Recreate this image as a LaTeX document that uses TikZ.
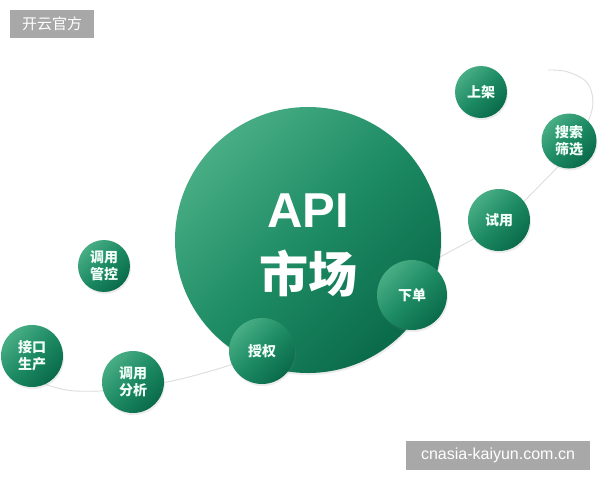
\documentclass[tikz,border=0pt]{standalone}
\usepackage{fontspec}
\setmainfont{Liberation Sans}
\newfontfamily\cjk{Noto Sans CJK SC}
\usetikzlibrary{shadows}
\definecolor{glight}{HTML}{48AD84}
\definecolor{gmid}{HTML}{1D8B64}
\definecolor{gdark}{HTML}{0A6A4A}
\definecolor{track}{HTML}{DDDDDD}
\definecolor{tagfill}{HTML}{A8A8A8}
\definecolor{labeltext}{HTML}{F2FFF8}
\tikzset{
  ball/.style={circle, inner sep=0pt, minimum size=#1, top color=glight, bottom color=gdark,
    middle color=gmid, shading angle=45, text=labeltext, align=center,
    font=\cjk\bfseries\fontsize{14}{16.5}\selectfont,
    drop shadow={opacity=0.15, shadow xshift=1pt, shadow yshift=-2pt}},
  tagbox/.style={fill=tagfill, text=white, inner sep=0pt},
  trackline/.style={draw=track, line width=0.9pt}
}
\begin{document}
\begin{tikzpicture}[x=1pt, y=-1pt]
\fill[white] (0,0) rectangle (600,480);
\useasboundingbox (0,0) rectangle (600,480);
% track coordinates
\coordinate (p0) at (42,383);
\coordinate (p1) at (75,391);
\coordinate (p2) at (133,388);
\coordinate (p3) at (200,374);
\coordinate (p4) at (262,352);
\coordinate (p5) at (360,300);
\coordinate (p6) at (440,257);
\coordinate (p7) at (499,223);
\coordinate (p8) at (545,180);
\coordinate (p9) at (574,147);
\coordinate (p10) at (592,110);
\coordinate (p11) at (588,84);
\coordinate (p12) at (568,72);
\coordinate (p13) at (548,70);
\draw[trackline] plot[smooth, tension=0.6] coordinates {(p0) (p1) (p2) (p3) (p4) (p5) (p6) (p7) (p8) (p9) (p10) (p11) (p12) (p13)};
% main circle
\node[ball=266pt] (big) at (308,240) {};
\node[text=white, font=\bfseries\fontsize{49}{49}\selectfont, anchor=base] (api) at (308,227) {API};
\node[text=white, font=\cjk\bfseries\fontsize{49}{49}\selectfont] (sc) at (308,274) {市场};
% small circles
\node[ball=52pt] (sj) at (481,92) {上架};
\node[ball=55pt] (ss) at (569,141) {搜索\\筛选};
\node[ball=62pt] (sy) at (499,220) {试用};
\node[ball=70pt] (xd) at (412,295) {下单};
\node[ball=66pt] (sq) at (262,351) {授权};
\node[ball=52pt] (gk) at (104,266) {调用\\管控};
\node[ball=62pt] (jk) at (32,356) {接口\\生产};
\node[ball=62pt] (fx) at (133,382) {调用\\分析};
% tags
\node[tagbox, minimum width=84pt, minimum height=28pt, font=\cjk\fontsize{15}{15}\selectfont] (t1) at (52,24) {开云官方};
\node[tagbox, minimum width=184pt, minimum height=29pt, font=\fontsize{16}{16}\selectfont] (t2) at (498,455) {cnasia-kaiyun.com.cn};
\end{tikzpicture}
\end{document}
